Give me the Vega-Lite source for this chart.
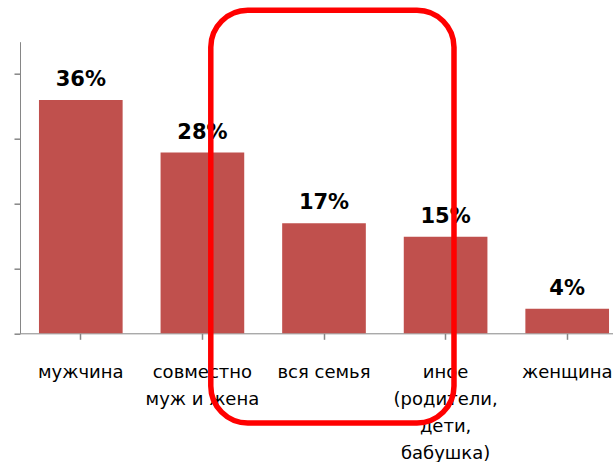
{
  "$schema": "https://vega.github.io/schema/vega-lite/v6.json",
  "autosize": {"type": "none"},
  "padding": {"left": 20, "top": 41.7, "right": 0, "bottom": 128.7},
  "width": 593,
  "height": 291.6,
  "background": "white",
  "config": {
    "view": {"stroke": null},
    "font": "DejaVu Sans",
    "axisX": {
      "title": null, "labelAngle": 0, "ticks": true,
      "tickOffset": -60.8, "labelOffset": 0,
      "labelFont": "DejaVu Sans", "labelFontSize": 18, "labelColor": "#000000",
      "labelLineHeight": 27, "labelBaseline": "alphabetic", "labelPadding": 37.7,
      "tickSize": 6, "tickWidth": 1.5, "tickColor": "#868686", "domainColor": "#868686", "domainWidth": 1,
      "labelLimit": 0, "labelOverlap": false, "grid": false
    },
    "axisY": {
      "title": null, "labelExpr": "''", "labelOverlap": false, "grid": false, "ticks": true, "domain": true,
      "tickSize": 6, "tickWidth": 1.5, "tickColor": "#868686", "domainColor": "#868686", "domainWidth": 1
    }
  },
  "datasets": {
    "bars": [
      {"cat": "мужчина", "value": 36, "label": "36%"},
      {"cat": "совместно\nмуж и жена", "value": 27.9, "label": "28%"},
      {"cat": "вся семья", "value": 17, "label": "17%"},
      {"cat": "иное\n(родители,\nдети,\nбабушка)", "value": 14.9, "label": "15%"},
      {"cat": "женщина", "value": 3.8, "label": "4%"}
    ],
    "box": [
      {"x1": 1.569, "x2": 3.569, "y1": -13.84, "y2": 49.85}
    ]
  },
  "layer": [
    {
      "data": {"name": "bars"},
      "layer": [
        {
          "mark": {"type": "bar", "color": "#C0504D"},
          "encoding": {
            "x": {
              "field": "cat", "type": "nominal", "sort": null,
              "scale": {"range": [0, 608], "paddingInner": 0.312, "paddingOuter": 0.156},
              "axis": {"title": null, "ticks": true, "labelExpr": "split(datum.label, '\\n')"}
            },
            "y": {
              "field": "value", "type": "quantitative",
              "scale": {"domain": [0, 45], "nice": false},
              "axis": {"title": null, "values": [0, 5, 10, 15, 20, 25, 30, 35, 40, 45], "tickCount": 9}
            }
          }
        },
        {
          "mark": {"type": "text", "font": "DejaVu Sans", "fontSize": 21, "fontWeight": "bold", "color": "#000000", "baseline": "alphabetic", "dy": -14},
          "encoding": {
            "x": {
              "field": "cat", "type": "nominal", "sort": null,
              "axis": {"title": null, "ticks": true, "labelExpr": "split(datum.label, '\\n')"}
            },
            "y": {"field": "value", "type": "quantitative", "axis": null},
            "text": {"field": "label"}
          }
        }
      ],
      "resolve": {"axis": {"y": "independent"}}
    },
    {
      "data": {"name": "box"},
      "mark": {"type": "rect", "fill": null, "fillOpacity": 0, "stroke": "#FF0000", "strokeWidth": 5.5, "cornerRadius": 37},
      "encoding": {
        "x": {"field": "x1", "type": "quantitative", "scale": {"domain": [0, 5], "range": [0, 608], "nice": false, "zero": false}, "axis": null},
        "x2": {"field": "x2"},
        "y": {"field": "y1", "type": "quantitative", "axis": null},
        "y2": {"field": "y2"}
      }
    }
  ],
  "resolve": {"scale": {"x": "independent"}, "axis": {"y": "independent"}}
}
